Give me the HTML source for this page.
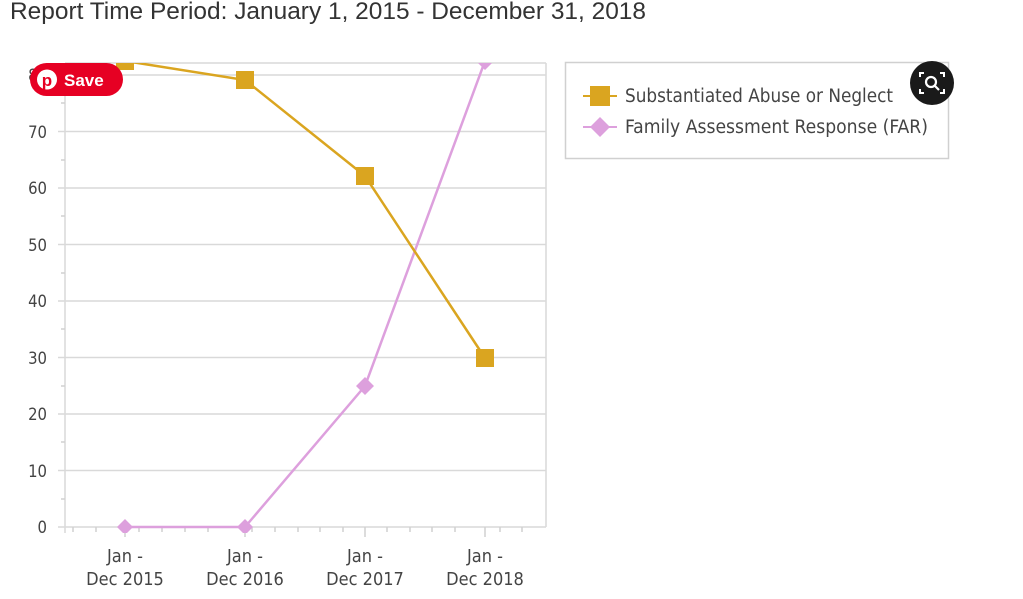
<!DOCTYPE html>
<html><head><meta charset="utf-8"><style>
body{margin:0;background:#fff;width:1023px;height:594px;overflow:hidden;font-family:"Liberation Sans",sans-serif;}
</style></head><body>
<svg width="1023" height="594" xmlns="http://www.w3.org/2000/svg">
<text x="10" y="19" font-size="24" fill="#333" font-family="Liberation Sans, sans-serif" textLength="636" lengthAdjust="spacingAndGlyphs">Report Time Period: January 1, 2015 - December 31, 2018</text>
<defs><clipPath id="c"><rect x="65" y="63" width="481" height="470"/></clipPath></defs>
<g stroke="#d9d9d9" stroke-width="1.5">
<line x1="58" y1="527" x2="546" y2="527"/>
<line x1="58" y1="470.5" x2="546" y2="470.5"/>
<line x1="58" y1="414" x2="546" y2="414"/>
<line x1="58" y1="357.5" x2="546" y2="357.5"/>
<line x1="58" y1="301" x2="546" y2="301"/>
<line x1="58" y1="244.5" x2="546" y2="244.5"/>
<line x1="58" y1="188" x2="546" y2="188"/>
<line x1="58" y1="131.5" x2="546" y2="131.5"/>
<line x1="58" y1="75" x2="546" y2="75"/>
<line x1="65" y1="63" x2="546" y2="63"/>
<line x1="546" y1="63" x2="546" y2="527"/>
<line x1="65" y1="63" x2="65" y2="533"/>
</g>
<g stroke="#d0d0d0" stroke-width="1.5">
<line x1="61" y1="103" x2="65" y2="103"/><line x1="61" y1="160" x2="65" y2="160"/><line x1="61" y1="216" x2="65" y2="216"/><line x1="61" y1="273" x2="65" y2="273"/><line x1="61" y1="329" x2="65" y2="329"/><line x1="61" y1="386" x2="65" y2="386"/><line x1="61" y1="442" x2="65" y2="442"/><line x1="61" y1="499" x2="65" y2="499"/>
<line x1="73" y1="527" x2="73" y2="532"/><line x1="96" y1="527" x2="96" y2="532"/><line x1="125" y1="527" x2="125" y2="537"/><line x1="139" y1="527" x2="139" y2="532"/><line x1="162" y1="527" x2="162" y2="532"/><line x1="185" y1="527" x2="185" y2="532"/><line x1="208" y1="527" x2="208" y2="532"/><line x1="245" y1="527" x2="245" y2="537"/><line x1="252" y1="527" x2="252" y2="532"/><line x1="275" y1="527" x2="275" y2="532"/><line x1="298" y1="527" x2="298" y2="532"/><line x1="320" y1="527" x2="320" y2="532"/><line x1="343" y1="527" x2="343" y2="532"/><line x1="365" y1="527" x2="365" y2="537"/><line x1="387" y1="527" x2="387" y2="532"/><line x1="410" y1="527" x2="410" y2="532"/><line x1="432" y1="527" x2="432" y2="532"/><line x1="455" y1="527" x2="455" y2="532"/><line x1="485" y1="527" x2="485" y2="537"/><line x1="500" y1="527" x2="500" y2="532"/><line x1="522" y1="527" x2="522" y2="532"/>
</g>
<g font-family="DejaVu Sans Condensed, DejaVu Sans, sans-serif" font-size="16.5" fill="#444" text-anchor="end">
<text x="47" y="533">0</text><text x="47" y="477">10</text><text x="47" y="420">20</text><text x="47" y="364">30</text><text x="47" y="307">40</text><text x="47" y="251">50</text><text x="47" y="194">60</text><text x="47" y="138">70</text><text x="47" y="81">80</text>
</g>
<g font-family="DejaVu Sans Condensed, DejaVu Sans, sans-serif" font-size="18" fill="#444" text-anchor="middle">
<text x="125" y="562">Jan -</text><text x="125" y="585">Dec 2015</text>
<text x="245" y="562">Jan -</text><text x="245" y="585">Dec 2016</text>
<text x="365" y="562">Jan -</text><text x="365" y="585">Dec 2017</text>
<text x="485" y="562">Jan -</text><text x="485" y="585">Dec 2018</text>
</g>
<g clip-path="url(#c)">
<polyline points="125,527 245,527 365,386 485,61" fill="none" stroke="#dda0dd" stroke-width="2.5"/>
<path d="M125,519 L133,527 L125,535 L117,527Z M245,519 L253,527 L245,535 L237,527Z M365,377 L374,386 L365,395 L356,386Z M485,52 L494,61 L485,70 L476,61Z" fill="#dda0dd"/>
<polyline points="125,61 245,80 365,176 485,358" fill="none" stroke="#daa520" stroke-width="2.5"/>
<rect x="116" y="52" width="18" height="18" fill="#daa520"/>
<rect x="236" y="71" width="18" height="18" fill="#daa520"/>
<rect x="356" y="167" width="18" height="18" fill="#daa520"/>
<rect x="476" y="349" width="18" height="18" fill="#daa520"/>
</g>
<rect x="565.5" y="62.5" width="383" height="96" fill="none" stroke="#d0d0d0" stroke-width="1.5"/>
<line x1="583" y1="96" x2="617" y2="96" stroke="#daa520" stroke-width="2"/>
<rect x="590" y="86" width="20" height="20" fill="#daa520"/>
<line x1="583" y1="127" x2="617" y2="127" stroke="#dda0dd" stroke-width="2"/>
<path d="M600,117 L610,127 L600,137 L590,127Z" fill="#dda0dd"/>
<g font-family="DejaVu Sans Condensed, DejaVu Sans, sans-serif" font-size="18.5" fill="#444">
<text x="625" y="102" textLength="268" lengthAdjust="spacingAndGlyphs">Substantiated Abuse or Neglect</text>
<text x="625" y="133" textLength="303" lengthAdjust="spacingAndGlyphs">Family Assessment Response (FAR)</text>
</g>
<rect x="30" y="63" width="93" height="33" rx="16.5" fill="#e60023"/>
<circle cx="47" cy="79.5" r="10" fill="#fff"/>
<text x="47" y="86" font-size="17" font-weight="bold" fill="#e60023" text-anchor="middle" font-family="Liberation Sans, sans-serif">p</text>
<text x="64" y="86" font-size="17" font-weight="bold" fill="#fff" font-family="Liberation Sans, sans-serif">Save</text>
<circle cx="932" cy="83" r="22" fill="#1a1a1a"/>
<circle cx="931" cy="82" r="5" fill="none" stroke="#fff" stroke-width="2.2"/>
<line x1="935" y1="86" x2="939" y2="90" stroke="#fff" stroke-width="2.2"/>
<path d="M920,77 V73 H924 M940,73 H944 V77 M944,89 V93 H940 M924,93 H920 V89" fill="none" stroke="#fff" stroke-width="2"/>
</svg>
</body></html>
